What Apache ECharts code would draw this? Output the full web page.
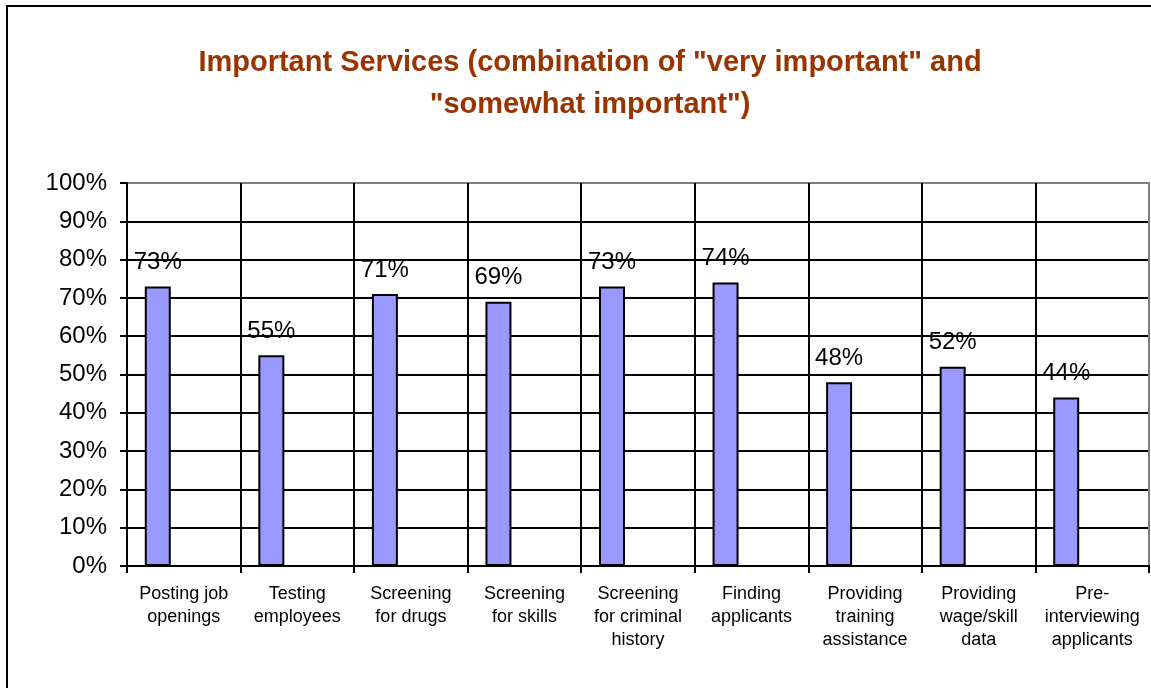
<!DOCTYPE html>
<html>
<head>
<meta charset="utf-8">
<title>Important Services</title>
<script src="https://cdn.jsdelivr.net/npm/echarts@6/dist/echarts.min.js"></script>
<style>
  html, body { margin: 0; padding: 0; background: #fff; }
  #chart { width: 1151px; height: 688px; }
</style>
</head>
<body>
<div id="chart"></div>
<script>
  // categories (line breaks as in the original axis)
  const services = [
    'Posting job\nopenings',
    'Testing\nemployees',
    'Screening\nfor drugs',
    'Screening\nfor skills',
    'Screening\nfor criminal\nhistory',
    'Finding\napplicants',
    'Providing\ntraining\nassistance',
    'Providing\nwage/skill\ndata',
    'Pre-\ninterviewing\napplicants'
  ];
  // percent rated "very" or "somewhat" important
  const importantPct = [73, 55, 71, 69, 73, 74, 48, 52, 44];

  const font = '"Liberation Sans", Arial, sans-serif';

  // grid lines are black, the outermost ones (plot frame) grey
  const hLineColors = Array(10).fill('#000').concat(['#808080']);
  const vLineColors = Array(9).fill('#000').concat(['#808080']);

  const chart = echarts.init(document.getElementById('chart'));
  const option = {
    animation: false,
    backgroundColor: '#fff',
    title: {
      text: 'Important Services (combination of "very important" and\n"somewhat important")',
      left: 585,
      top: 37,
      textAlign: 'center',
      textStyle: {
        color: '#993300',
        fontFamily: font,
        fontWeight: 'bold',
        fontSize: 29,
        lineHeight: 42
      }
    },
    graphic: [{
      type: 'rect',
      shape: { x: 7, y: 6, width: 1170, height: 700 },
      style: { fill: 'none', stroke: '#000', lineWidth: 2 },
      silent: true
    }],
    grid: {
      left: 127,
      right: 2,
      top: 183,
      bottom: 122,
      show: true,
      borderColor: '#808080',
      borderWidth: 2,
      backgroundColor: '#fff'
    },
    xAxis: {
      type: 'category',
      data: services,
      axisLine: { lineStyle: { color: '#000', width: 2 } },
      axisTick: { show: true, length: 7, lineStyle: { color: '#000', width: 2 } },
      splitLine: { show: true, lineStyle: { color: vLineColors, width: 2 } },
      axisLabel: {
        interval: 0,
        margin: 17,
        color: '#000',
        fontFamily: font,
        fontSize: 18,
        lineHeight: 23
      }
    },
    yAxis: {
      type: 'value',
      min: 0,
      max: 100,
      interval: 10,
      axisLine: { show: true, lineStyle: { color: '#000', width: 2 } },
      axisTick: { show: true, length: 7, lineStyle: { color: '#000', width: 2 } },
      splitLine: { show: true, lineStyle: { color: hLineColors, width: 2 } },
      axisLabel: {
        formatter: '{value}%',
        margin: 20,
        color: '#000',
        fontFamily: font,
        fontSize: 24
      }
    },
    series: [
      {
        name: 'Important',
        type: 'bar',
        data: importantPct,
        barWidth: 26,
        barGap: '0%',
        itemStyle: { color: '#9999FF', borderColor: '#000', borderWidth: 2 },
        label: {
          show: true,
          position: 'top',
          distance: 12,
          formatter: '{c}%',
          color: '#000',
          fontFamily: font,
          fontSize: 24
        }
      },
      // two empty series keep the Excel-style left offset of the bars
      { name: 'pad1', type: 'bar', data: [], barWidth: 26, barGap: '0%' },
      { name: 'pad2', type: 'bar', data: [], barWidth: 26, barGap: '0%' }
    ]
  };
  chart.setOption(option);
</script>
</body>
</html>
